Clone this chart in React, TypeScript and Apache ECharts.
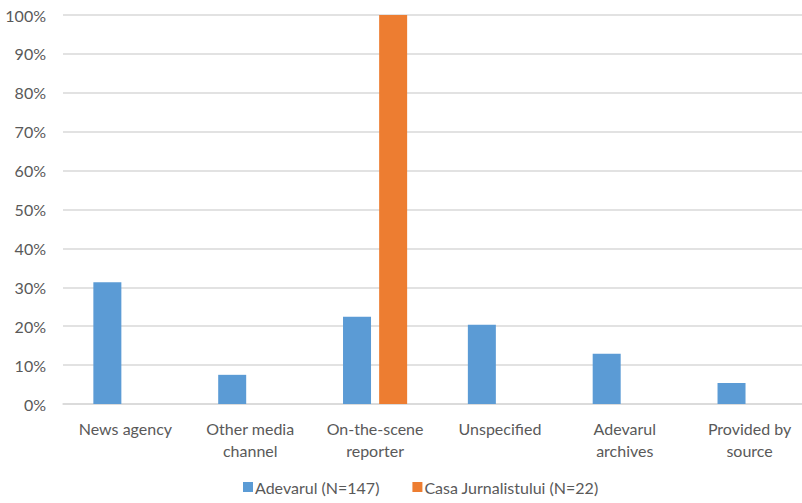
import React, { useEffect, useRef } from "react";
import * as echarts from "echarts";

const categories = [
  "News agency",
  "Other media\nchannel",
  "On-the-scene\nreporter",
  "Unspecified",
  "Adevarul\narchives",
  "Provided by\nsource",
];
const adevarul = [31.3, 7.5, 22.4, 20.4, 12.9, 5.4];
const casa = [0, 0, 100, 0, 0, 0];
const seriesNames = ["Adevarul (N=147)", "Casa Jurnalistului (N=22)"];

const FONT = "Lato";

export default function App() {
  const ref = useRef<HTMLDivElement>(null);
  useEffect(() => {
    const chart = echarts.init(ref.current!, null, { renderer: "svg" });
    chart.setOption({
      animation: false,
      textStyle: { fontFamily: FONT },
      grid: { left: 63, right: 0, top: 15, bottom: 99 },
      legend: {
        bottom: 3,
        left: 238,
        itemWidth: 10,
        itemHeight: 10,
        itemGap: 33,
        icon: "rect",
        textStyle: { fontFamily: FONT, fontSize: 16, color: "#595959", padding: [0, 0, 0, -3] },
        data: seriesNames,
      },
      xAxis: {
        type: "category",
        data: categories,
        axisLine: { lineStyle: { color: "#d9d9d9", width: 1.5 } },
        axisTick: { show: false },
        axisLabel: {
          fontFamily: FONT,
          fontSize: 16,
          color: "#595959",
          margin: 13,
          lineHeight: 22,
          interval: 0,
        },
      },
      yAxis: {
        type: "value",
        min: 0,
        max: 100,
        interval: 10,
        axisLabel: {
          formatter: "{value}%",
          fontFamily: FONT,
          fontSize: 16,
          color: "#595959",
          margin: 17,
        },
        splitLine: { lineStyle: { color: "#d9d9d9", width: 1.5 } },
        axisLine: { show: false },
        axisTick: { show: false },
      },
      series: [
        {
          name: seriesNames[0],
          type: "bar",
          data: adevarul,
          barWidth: 28,
          barGap: "29%",
          itemStyle: { color: "#5B9BD5" },
        },
        {
          name: seriesNames[1],
          type: "bar",
          data: casa,
          barWidth: 28,
          barGap: "29%",
          itemStyle: { color: "#ED7D31" },
        },
      ],
    });
    return () => chart.dispose();
  }, []);
  return (
    <div
      style={{ position: "absolute", left: 0, top: 0, width: 802, height: 503, background: "#fff", overflow: "hidden" }}
    >
      <div ref={ref} style={{ width: 812, height: 503 }} />
    </div>
  );
}
